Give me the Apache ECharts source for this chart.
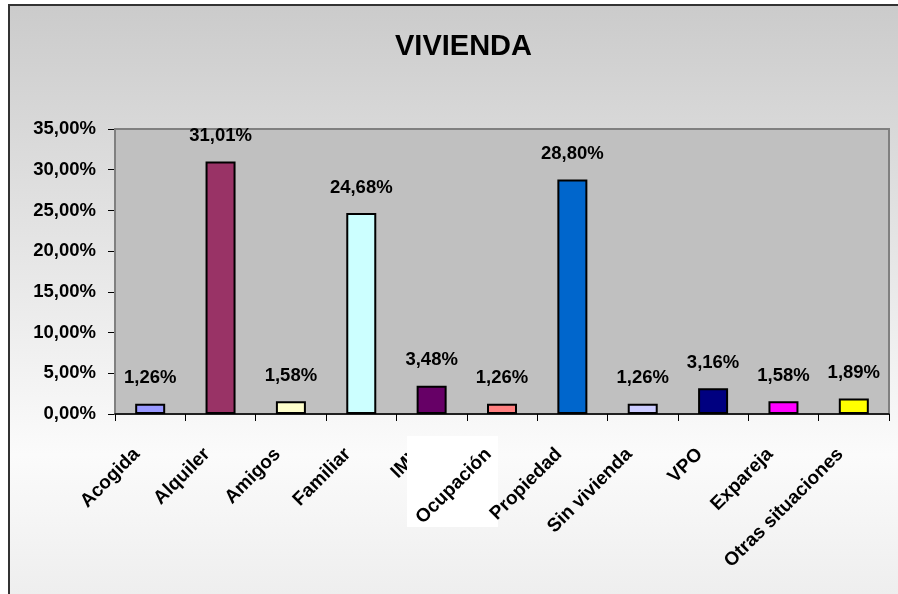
<!DOCTYPE html>
<html>
<head>
<meta charset="utf-8">
<script src="https://cdn.jsdelivr.net/npm/echarts@6/dist/echarts.min.js"></script>
<style>html,body{margin:0;padding:0;background:#fff}#c{width:898px;height:594px}</style>
</head>
<body>
<div id="c"></div>
<script>
var titleText = 'VIVIENDA';
var categories = ['Acogida','Alquiler','Amigos','Familiar','IMV','Ocupación','Propiedad','Sin vivienda','VPO','Expareja','Otras situaciones'];
var values = [1.26, 31.01, 1.58, 24.68, 3.48, 1.26, 28.80, 1.26, 3.16, 1.58, 1.89];
var barColors = ['#9999ff','#993366','#ffffcc','#ccffff','#660066','#ff8080','#0066cc','#ccccff','#000080','#ff00ff','#ffff00'];
var yMin = 0, yMax = 35, yStep = 5;
var coveredLabel = 'IMV';

function pct(v){ return v.toFixed(2).replace('.', ',') + '%'; }

var chart = echarts.init(document.getElementById('c'), null, {renderer:'canvas'});
var FONT = '"Liberation Sans", Arial, sans-serif';
var labelStyle = {fontFamily: FONT, fontWeight: 'bold', fontSize: 19, color: '#000', rotate: 45, margin: 24, padding:[0,19,0,0], interval: 0};

chart.setOption({
  animation: false,
  textStyle: {fontFamily: FONT},
  graphic: [
    {type:'rect', z:-10, shape:{x:9, y:5, width:1000, height:1000},
     style:{stroke:'#333', lineWidth:2,
       fill: new echarts.graphic.LinearGradient(0,0,0,1,[
         {offset:0, color:'#cbcbcb'},
         {offset:0.45, color:'#fbfbfb'},
         {offset:1, color:'#c8c8c8'}
       ], false)}},
    {type:'rect', z:50, shape:{x:407, y:436, width:91, height:91}, style:{fill:'#ffffff'}}
  ],
  title: {text: titleText, left: 390, top: 27,
    textStyle:{fontFamily: FONT, fontWeight:'bold', fontSize:29, color:'#000'}},
  grid: {left:115, right:9, top:129, bottom:180, show:true, backgroundColor:'#c0c0c0', borderColor:'#808080', borderWidth:2, z:1},
  xAxis: [
    {type:'category', data:categories, z:10,
     axisLine:{show:true, lineStyle:{color:'#000', width:1.5}},
     axisTick:{show:true, length:7, lineStyle:{color:'#000'}, alignWithLabel:false},
     axisLabel: Object.assign({}, labelStyle, {formatter:function(v){ return v===coveredLabel ? v : ''; }})},
    {type:'category', data:categories, position:'bottom', z:60, zlevel:0,
     axisLine:{show:false}, axisTick:{show:false}, splitLine:{show:false},
     axisLabel: Object.assign({}, labelStyle, {formatter:function(v){ return v===coveredLabel ? '' : v; }})}
  ],
  yAxis: {type:'value', min:yMin, max:yMax, interval:yStep,
    axisLine:{show:true, lineStyle:{color:'#000', width:1.5}},
    axisTick:{show:true, length:7, lineStyle:{color:'#000'}},
    splitLine:{show:true, lineStyle:{color:'#000', width:1}},
    axisLabel:{fontFamily: FONT, fontWeight:'bold', fontSize:18.5, color:'#000', margin:19, formatter:function(v){ return pct(v); }}},
  series: [{
    type:'bar', xAxisIndex:0, barWidth:30, z:5,
    data: values.map(function(v,i){ return {value:v, itemStyle:{color:barColors[i]}}; }),
    itemStyle:{borderColor:'#000', borderWidth:2},
    label:{show:true, position:'top', distance:16, fontFamily: FONT, fontWeight:'bold', fontSize:18.5, color:'#000',
      formatter:function(p){ return pct(p.value); }}
  }]
});
</script>
</body>
</html>
